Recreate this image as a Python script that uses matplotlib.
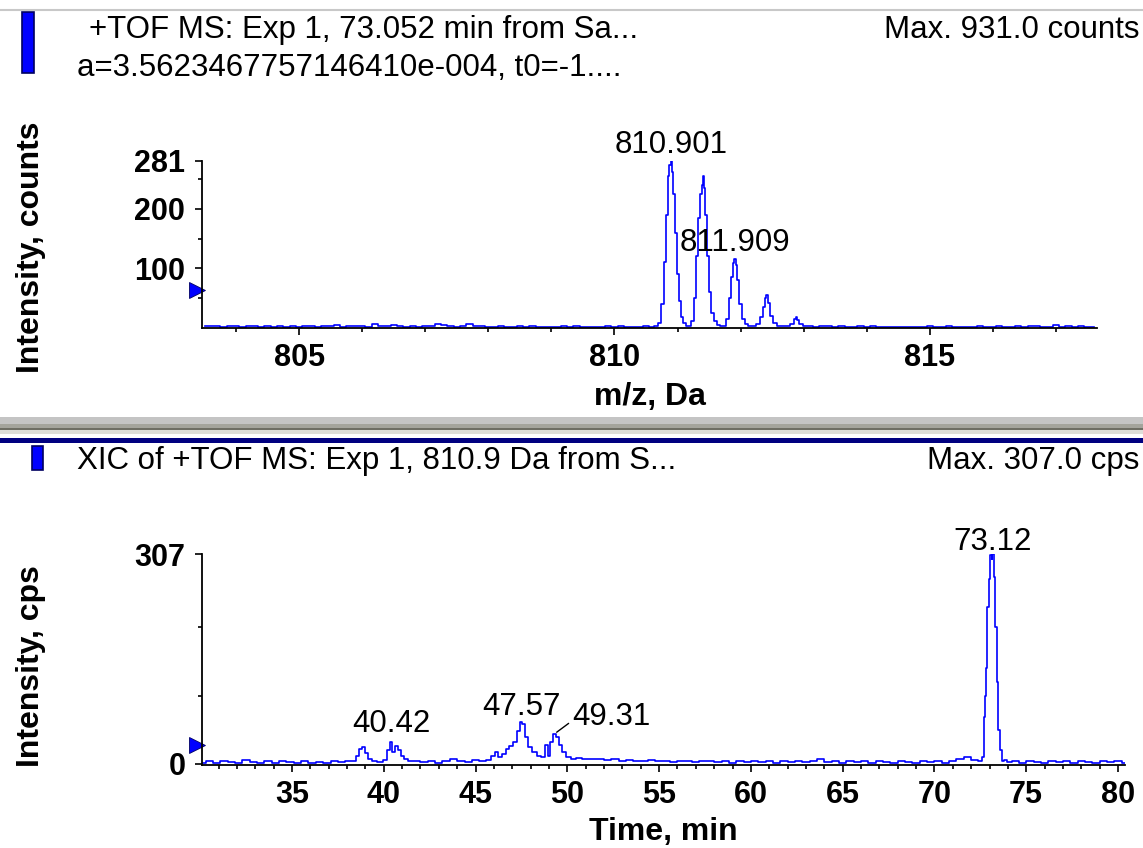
import matplotlib
matplotlib.use('agg')
import numpy as np
import matplotlib.pyplot as plt
import matplotlib.transforms as mtransforms
from matplotlib.patches import Rectangle
from matplotlib.lines import Line2D
from matplotlib.ticker import FixedLocator, MultipleLocator

plt.rcParams['font.family'] = ['Liberation Sans', 'DejaVu Sans']

# ---- spectrum (top panel): m/z vs counts ----
base_a_mz = [803.50, 803.60, 803.70, 803.80, 803.90, 804.00, 804.10, 804.20, 804.30, 804.40,
             804.50, 804.60, 804.70, 804.80, 804.90, 805.00, 805.10, 805.20, 805.30, 805.40,
             805.50, 805.60, 805.70, 805.80, 805.90, 806.00, 806.10, 806.20, 806.30, 806.40,
             806.50, 806.60, 806.70, 806.80, 806.90, 807.00, 807.10, 807.20, 807.30, 807.40,
             807.50, 807.60, 807.70, 807.80, 807.90, 808.00, 808.10, 808.20, 808.30, 808.40,
             808.50, 808.60, 808.70, 808.80, 808.90, 809.00, 809.10, 809.20, 809.30, 809.40,
             809.50, 809.60, 809.70, 809.80, 809.90, 810.00, 810.10, 810.20, 810.30, 810.40,
             810.50, 810.60]
base_a_ct = [2, 3, 2, 0, 3, 2, 0, 2, 3, 0,
             2, 0, 3, 0, 2, 0, 3, 2, 0, 2,
             3, 4, 0, 2, 3, 2, 0, 5, 3, 2,
             4, 3, 0, 2, 0, 3, 2, 6, 4, 3,
             0, 2, 5, 3, 2, 0, 0, 2, 0, 0,
             3, 0, 2, 0, 0, 0, 0, 3, 0, 2,
             0, 0, 0, 0, 2, 0, 3, 0, 0, 0,
             2, 0]
pk1_mz = [810.66, 810.72, 810.76, 810.80, 810.83, 810.86, 810.88, 810.90, 810.92, 810.94,
          810.97, 811.00, 811.03, 811.07, 811.11, 811.15]
pk1_ct = [2, 8, 40, 110, 190, 255, 275, 281, 262, 225, 160, 90, 45, 18, 8, 3]
pk2_mz = [811.19, 811.24, 811.28, 811.31, 811.34, 811.37, 811.39, 811.41, 811.43, 811.45,
          811.48, 811.51, 811.55, 811.60, 811.65, 811.70]
pk2_ct = [2, 10, 50, 120, 185, 225, 240, 256, 235, 190, 120, 60, 25, 10, 4, 2]
pk3_mz = [811.75, 811.79, 811.83, 811.86, 811.89, 811.91, 811.93, 811.96, 812.00, 812.04,
          812.09, 812.15]
pk3_ct = [3, 15, 50, 85, 108, 115, 105, 80, 40, 15, 5, 2]
pk4_mz = [812.22, 812.28, 812.33, 812.37, 812.40, 812.42, 812.45, 812.49, 812.54, 812.60, 812.68]
pk4_ct = [2, 6, 18, 35, 50, 54, 42, 20, 8, 3, 2]
pk5_mz = [812.76, 812.82, 812.86, 812.88, 812.91, 812.95, 813.02]
pk5_ct = [2, 6, 14, 18, 12, 5, 2]
base_b_mz = [813.10, 813.20, 813.30, 813.40, 813.50, 813.60, 813.70, 813.80, 813.90, 814.00,
             814.10, 814.20, 814.30, 814.40, 814.50, 814.60, 814.70, 814.80, 814.90, 815.00,
             815.10, 815.20, 815.30, 815.40, 815.50, 815.60, 815.70, 815.80, 815.90, 816.00,
             816.10, 816.20, 816.30, 816.40, 816.50, 816.60, 816.70, 816.80, 816.90, 817.00,
             817.10, 817.20, 817.30, 817.40, 817.50, 817.60]
base_b_ct = [3, 0, 2, 3, 0, 2, 0, 0, 3, 0,
             2, 0, 0, 0, 0, 0, 0, 0, 0, 3,
             0, 0, 2, 0, 0, 0, 0, 2, 0, 0,
             2, 0, 0, 3, 0, 2, 3, 0, 0, 4,
             0, 2, 0, 3, 0, 0]
top_labels = ["810.901", "811.909"]
top_label_mz = [810.90, 811.91]
top_label_ct = [281, 115]

# ---- XIC (bottom panel): time vs cps ----
base1_rt = [30.1, 30.5, 30.9, 31.3, 31.7, 32.1, 32.5, 32.9, 33.3, 33.7, 34.1, 34.5, 34.9,
            35.3, 35.7, 36.1, 36.5, 36.9, 37.3, 37.7, 38.1]
base1_cps = [2, 4, 1, 5, 3, 2, 6, 3, 1, 4, 2, 5, 3, 2, 4, 1, 3, 2, 5, 3, 4]
xpk1_rt = [38.4, 38.6, 38.75, 38.9, 39.05, 39.25, 39.5, 39.8, 40.1, 40.25, 40.4, 40.55,
           40.7, 40.85, 41.0, 41.2, 41.45]
xpk1_cps = [5, 12, 22, 25, 16, 8, 4, 3, 6, 20, 32, 17, 27, 20, 12, 7, 5]
base2_rt = [41.8, 42.2, 42.6, 43.0, 43.4, 43.8, 44.2, 44.6, 45.0, 45.4]
base2_cps = [4, 3, 5, 2, 4, 8, 5, 3, 6, 4]
xpk2_rt = [45.7, 45.95, 46.15, 46.35, 46.55, 46.75, 46.95, 47.15, 47.35, 47.5, 47.6, 47.75,
           47.95, 48.2, 48.45, 48.7, 48.85, 49.0, 49.15, 49.3, 49.45, 49.6, 49.8, 50.05, 50.3]
xpk2_cps = [6, 12, 18, 10, 15, 22, 26, 32, 48, 62, 58, 40, 25, 18, 12, 10, 28, 12, 32, 44,
            40, 28, 17, 10, 8]
base3_rt = [50.6, 51.0, 51.4, 51.8, 52.2, 52.6, 53.0, 53.4, 53.8, 54.2, 54.6, 55.0, 55.4,
            55.8, 56.2, 56.6, 57.0, 57.4, 57.8, 58.2, 58.6, 59.0, 59.4, 59.8, 60.2, 60.6,
            61.0, 61.4, 61.8, 62.2, 62.6, 63.0, 63.4, 63.8, 64.2, 64.6, 65.0, 65.4, 65.8,
            66.2, 66.6, 67.0, 67.4, 67.8, 68.2, 68.6, 69.0, 69.4, 69.8, 70.2, 70.6, 71.0,
            71.4, 71.8, 72.2]
base3_cps = [9, 8, 7, 8, 6, 7, 5, 6, 4, 5, 6, 4, 5,
             3, 5, 4, 3, 5, 4, 3, 5, 2, 4, 3, 5, 3,
             4, 2, 4, 3, 5, 3, 4, 7, 3, 4, 2, 4, 3,
             5, 2, 4, 3, 2, 4, 3, 2, 5, 3, 4, 2, 4,
             7, 10, 6]
xpk3_rt = [72.55, 72.68, 72.73, 72.8, 72.85, 72.91, 73.0, 73.09, 73.13, 73.18, 73.27, 73.36,
           73.44, 73.51, 73.6, 73.73, 73.85]
xpk3_cps = [5, 10, 69, 100, 140, 229, 270, 305, 300, 307, 273, 200, 120, 50, 20, 4, 6]
base4_rt = [74.0, 74.4, 74.8, 75.2, 75.6, 76.0, 76.4, 76.8, 77.2, 77.6, 78.0, 78.4, 78.8,
            79.2, 79.6, 80.0, 80.4]
base4_cps = [3, 5, 2, 4, 3, 2, 4, 3, 5, 2, 4, 3, 2, 4, 3, 5, 2]
xic_labels = ["40.42", "47.57", "49.31", "73.12"]
xic_label_rt = [40.4, 47.5, 49.3, 73.18]
xic_label_cps = [32, 62, 44, 307]

W, H = 1143, 848
BLUE = '#0000ff'
TXT = 22.5    # header / peak label size
TICK = 22     # tick label size
ALAB = 23     # axis title size


def fx(x):
    return x / W


def fy(y):
    return 1 - y / H


def add_px_axes(fig, left, top, right, bottom):
    return fig.add_axes([fx(left), fy(bottom), (right - left) / W, (bottom - top) / H])


def style_axes(ax):
    for s in ['top', 'right']:
        ax.spines[s].set_visible(False)
    for s in ['left', 'bottom']:
        ax.spines[s].set_linewidth(1.3)
        ax.spines[s].set_zorder(3)   # black axis line drawn over the zero level
    ax.tick_params(which='major', direction='out', length=5, width=1.2, labelsize=TICK)
    ax.tick_params(which='minor', direction='out', length=3, width=1.2)
    ax.tick_params(axis='x', which='major', pad=6)
    ax.tick_params(axis='y', which='major', pad=7)
    for lab in ax.get_xticklabels() + ax.get_yticklabels():
        lab.set_fontweight('bold')
    ax.patch.set_alpha(0)


fig = plt.figure(figsize=(W / 100, H / 100), dpi=100)

# header decorations
fig.add_artist(Line2D([0, 1], [fy(10), fy(10)], color='#c8c8c8', lw=1.5))
fig.add_artist(Rectangle((fx(22), fy(73)), 12 / W, 61 / H, facecolor=BLUE,
                         edgecolor='#000060', lw=1.2))
fig.text(fx(89), fy(30), "+TOF MS: Exp 1, 73.052 min from Sa...", fontsize=TXT,
         va='center', ha='left')
fig.text(fx(77), fy(68), "a=3.5623467757146410e-004, t0=-1....", fontsize=TXT,
         va='center', ha='left')
fig.text(fx(1139), fy(30), "Max. 931.0 counts", fontsize=TXT, va='center', ha='right')

# separator between panels
fig.add_artist(Rectangle((0, fy(424)), 1, 7 / H, facecolor='#c4c4c4', edgecolor='none'))
fig.add_artist(Rectangle((0, fy(428)), 1, 4 / H, facecolor='#a4a49c', edgecolor='none'))
fig.add_artist(Rectangle((0, fy(430)), 1, 2 / H, facecolor='#6e6e64', edgecolor='none'))
fig.add_artist(Rectangle((0, fy(434)), 1, 4 / H, facecolor='#deded8', edgecolor='none'))
fig.add_artist(Rectangle((0, fy(443)), 1, 5 / H, facecolor='#000080', edgecolor='none'))
fig.add_artist(Rectangle((fx(32), fy(470)), 11 / W, 24 / H, facecolor=BLUE,
                         edgecolor='#000060', lw=1.2))
fig.text(fx(77), fy(461), "XIC of +TOF MS: Exp 1, 810.9 Da from S...", fontsize=TXT,
         va='center', ha='left')
fig.text(fx(1139), fy(461), "Max. 307.0 cps", fontsize=TXT, va='center', ha='right')

# ---- top panel ----
mz = np.concatenate([base_a_mz, pk1_mz, pk2_mz, pk3_mz, pk4_mz, pk5_mz, base_b_mz])
ct = np.concatenate([base_a_ct, pk1_ct, pk2_ct, pk3_ct, pk4_ct, pk5_ct, base_b_ct])
ax1 = add_px_axes(fig, 202, 161, 1097, 328)
ax1.plot(mz, ct, color=BLUE, lw=1.2, drawstyle='steps-mid', zorder=2)
ax1.set_xlim(803.46, 817.65)
ax1.set_ylim(-1.0, 281)
ax1.xaxis.set_major_locator(FixedLocator([805, 810, 815]))
ax1.xaxis.set_minor_locator(MultipleLocator(1))
ax1.yaxis.set_major_locator(FixedLocator([100, 200, 281]))
ax1.yaxis.set_minor_locator(FixedLocator([50, 150, 250]))
style_axes(ax1)
ax1.set_xlabel("m/z, Da", fontsize=ALAB, fontweight='bold', labelpad=6)
ax1.set_ylabel("Intensity, counts", fontsize=ALAB, fontweight='bold', va='center')
ax1.yaxis.set_label_coords((31 - 202) / 895, (328 - 247) / 167)
for lab, x, y in zip(top_labels, top_label_mz, top_label_ct):
    ax1.annotate(lab, xy=(x, y), xytext=(0, 1), textcoords='offset points', ha='center',
                 va='bottom', fontsize=TXT, annotation_clip=False)
tr1 = mtransforms.blended_transform_factory(ax1.transAxes, ax1.transData)
ax1.plot([-0.006], [63], marker='>', ms=11, color=BLUE, mec='#000060', mew=0.6,
         transform=tr1, clip_on=False)

# ---- bottom panel ----
rt = np.concatenate([base1_rt, xpk1_rt, base2_rt, xpk2_rt, base3_rt, xpk3_rt, base4_rt])
cps = np.concatenate([base1_cps, xpk1_cps, base2_cps, xpk2_cps, base3_cps, xpk3_cps, base4_cps])
ax2 = add_px_axes(fig, 202, 554, 1125, 765)
ax2.plot(rt, cps, color=BLUE, lw=1.2, drawstyle='steps-mid', zorder=2)
ax2.set_xlim(30.1, 80.38)
ax2.set_ylim(-1.5, 307)
ax2.xaxis.set_major_locator(FixedLocator(list(range(35, 81, 5))))
ax2.xaxis.set_minor_locator(MultipleLocator(1))
ax2.yaxis.set_major_locator(FixedLocator([0, 307]))
ax2.yaxis.set_minor_locator(FixedLocator([100, 200]))
style_axes(ax2)
ax2.set_xlabel("Time, min", fontsize=ALAB, fontweight='bold', labelpad=5)
ax2.set_ylabel("Intensity, cps", fontsize=ALAB, fontweight='bold', va='center')
ax2.yaxis.set_label_coords((31 - 202) / 923, (765 - 666) / 211)
label_offsets = {"40.42": (0, 2), "47.57": (0, 0), "73.12": (0, -2)}
for lab, x, y in zip(xic_labels, xic_label_rt, xic_label_cps):
    if lab == "49.31":
        ax2.annotate(lab, xy=(x, y), xytext=(13, 1), textcoords='offset points', ha='left',
                     va='bottom', fontsize=TXT, annotation_clip=False,
                     arrowprops=dict(arrowstyle='-', color='black', lw=1, shrinkA=1,
                                     shrinkB=2, relpos=(0, 0.4)))
    else:
        ax2.annotate(lab, xy=(x, y), xytext=label_offsets[lab], textcoords='offset points',
                     ha='center', va='bottom', fontsize=TXT, annotation_clip=False)
tr2 = mtransforms.blended_transform_factory(ax2.transAxes, ax2.transData)
ax2.plot([-0.005], [28], marker='>', ms=11, color=BLUE, mec='#000060', mew=0.6,
         transform=tr2, clip_on=False)

fig.savefig('out.png', dpi=100)
